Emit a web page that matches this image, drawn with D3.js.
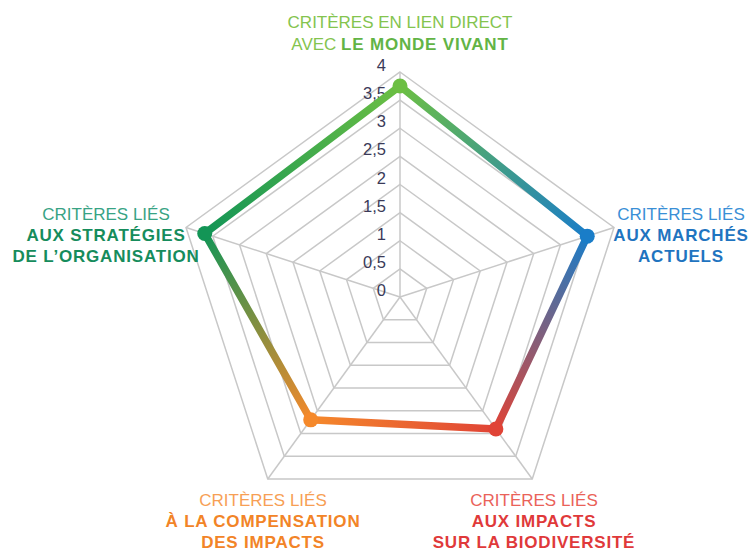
<!DOCTYPE html>
<html>
<head>
<meta charset="utf-8">
<script src="https://cdn.jsdelivr.net/npm/d3@7"></script>
<style>
  body { margin: 0; background: #fff; }
  svg { font-family: "Liberation Sans", Arial, sans-serif; }
</style>
</head>
<body>
<svg id="chart" width="750" height="552"></svg>
<script>
// axes, clockwise from the top
const axisNames = ['monde', 'marches', 'impacts', 'compensation', 'strategies'];
const values = [3.75, 3.5, 2.9, 2.7, 3.65];
const ticks = [0, 0.5, 1, 1.5, 2, 2.5, 3, 3.5, 4];
const tickLabels = ['0', '0,5', '1', '1,5', '2', '2,5', '3', '3,5', '4'];
// each label line is a list of [text, bold]
const axisLabels = [
  [[['CRITÈRES EN LIEN DIRECT', false]], [['AVEC ', false], ['LE MONDE VIVANT', true]]],
  [[['CRITÈRES LIÉS', false]], [['AUX MARCHÉS', true]], [['ACTUELS', true]]],
  [[['CRITÈRES LIÉS', false]], [['AUX IMPACTS', true]], [['SUR LA BIODIVERSITÉ', true]]],
  [[['CRITÈRES LIÉS', false]], [['À LA COMPENSATION', true]], [['DES IMPACTS', true]]],
  [[['CRITÈRES LIÉS', false]], [['AUX STRATÉGIES', true]], [['DE L’ORGANISATION', true]]]
];

const lineColors = ['#6cbf43', '#1a7dc8', '#e04336', '#f5892b', '#139556'];
const labelColors = [
  ['#84c44e', '#62b445'],
  ['#3a8fd6', '#1f74c0'],
  ['#ea6259', '#e0393a'],
  ['#f79f55', '#f28427'],
  ['#38a384', '#168c5c']
];
const labelPos = [
  { x: 400, y: 28, dy: 22 },
  { x: 681, y: 220, dy: 21 },
  { x: 534, y: 506, dy: 21 },
  { x: 263, y: 506, dy: 21 },
  { x: 106, y: 220, dy: 21 }
];

const svg = d3.select('#chart');
const cx = 400, cy = 297;
const r = d3.scaleLinear().domain([0, 4]).range([0, 225]);
const angle = d3.scaleLinear().domain([0, axisNames.length]).range([0, 2 * Math.PI]);
const pt = (i, v) => [cx + r(v) * Math.sin(angle(i)), cy - r(v) * Math.cos(angle(i))];

// grid rings
const ring = d3.line().curve(d3.curveLinearClosed);
svg.append('g').selectAll('path')
  .data(ticks.filter(t => t > 0))
  .join('path')
  .attr('d', t => ring(axisNames.map((_, i) => pt(i, t))))
  .attr('fill', 'none')
  .attr('stroke', '#c8c8c8')
  .attr('stroke-width', 1.5);

// spokes
svg.append('g').selectAll('line')
  .data(axisNames)
  .join('line')
  .attr('x1', cx).attr('y1', cy)
  .attr('x2', (d, i) => pt(i, 4)[0])
  .attr('y2', (d, i) => pt(i, 4)[1])
  .attr('stroke', '#c8c8c8')
  .attr('stroke-width', 1.5);

// tick labels
svg.append('g').selectAll('text')
  .data(ticks)
  .join('text')
  .attr('x', 386)
  .attr('y', t => cy - r(t) - 1)
  .attr('text-anchor', 'end')
  .attr('font-size', 16.5)
  .attr('fill', '#3a3a58')
  .text((t, i) => tickLabels[i]);

// data line, one gradient segment per edge
const pts = values.map((v, i) => pt(i, v));
const defs = svg.append('defs');
const segs = pts.map((p, i) => ({ a: p, b: pts[(i + 1) % pts.length], ca: lineColors[i], cb: lineColors[(i + 1) % pts.length], i }));
segs.forEach(s => {
  const g = defs.append('linearGradient')
    .attr('id', 'seg' + s.i)
    .attr('gradientUnits', 'userSpaceOnUse')
    .attr('x1', s.a[0]).attr('y1', s.a[1])
    .attr('x2', s.b[0]).attr('y2', s.b[1]);
  g.append('stop').attr('offset', 0).attr('stop-color', s.ca);
  g.append('stop').attr('offset', 1).attr('stop-color', s.cb);
});
svg.append('g').selectAll('line')
  .data(segs)
  .join('line')
  .attr('x1', s => s.a[0]).attr('y1', s => s.a[1])
  .attr('x2', s => s.b[0]).attr('y2', s => s.b[1])
  .attr('stroke', s => `url(#seg${s.i})`)
  .attr('stroke-width', 7.5)
  .attr('stroke-linecap', 'round');

svg.append('g').selectAll('circle')
  .data(pts)
  .join('circle')
  .attr('cx', p => p[0]).attr('cy', p => p[1])
  .attr('r', 7.5)
  .attr('fill', (p, i) => lineColors[i]);

// axis labels
axisLabels.forEach((lines, i) => {
  const t = svg.append('text')
    .attr('text-anchor', 'middle')
    .attr('font-size', 17);
  lines.forEach((parts, j) => {
    const line = t.append('tspan')
      .attr('x', labelPos[i].x)
      .attr('y', labelPos[i].y + j * labelPos[i].dy);
    parts.forEach(([txt, bold]) => {
      line.append('tspan')
        .attr('font-weight', bold ? 'bold' : 'normal')
        .attr('letter-spacing', bold ? 0.8 : 0)
        .attr('fill', labelColors[i][bold ? 1 : 0])
        .text(txt);
    });
  });
});
</script>
</body>
</html>
